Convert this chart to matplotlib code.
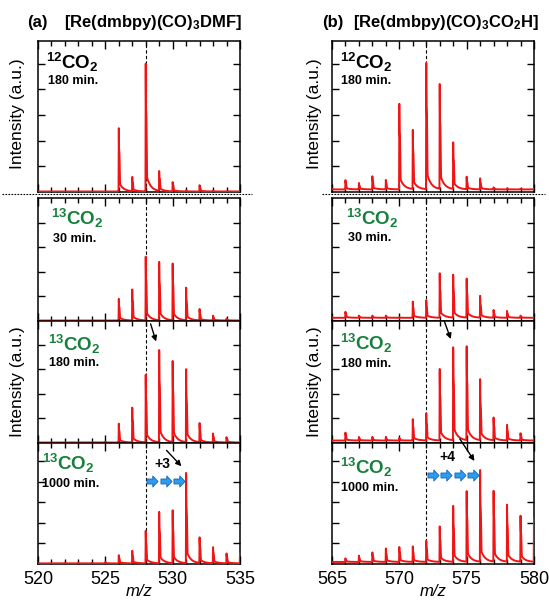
import numpy as np
import matplotlib
matplotlib.use("Agg")
import matplotlib.pyplot as plt
from matplotlib.path import Path
from matplotlib.ticker import MultipleLocator

plt.rcParams['font.family'] = ['Liberation Sans', 'DejaVu Sans']
plt.rcParams['mathtext.fontset'] = 'custom'
plt.rcParams['mathtext.rm'] = 'Liberation Sans:bold'
plt.rcParams['mathtext.bf'] = 'Liberation Sans:bold'
plt.rcParams['mathtext.it'] = 'Liberation Sans:bold:italic'
plt.rcParams['mathtext.default'] = 'rm'

# ---------------- data ----------------
masses_a = list(range(520, 536))
masses_b = list(range(565, 581))

# (a) [Re(dmbpy)(CO)3DMF]
a_12co2_180 = [0, 0, 0, 0, 0, 0.02, 2.57, 0.58, 5.06, 0.82, 0.39, 0.06, 0.27, 0.05, 0.03, 0]
a_13co2_30 = [0, 0, 0, 0, 0, 0.02, 0.93, 1.29, 2.64, 2.48, 2.39, 1.35, 0.49, 0.22, 0.10, 0.03]
a_13co2_180 = [0, 0, 0, 0, 0, 0.05, 0.81, 1.45, 2.80, 3.91, 3.41, 3.00, 0.81, 0.40, 0.24, 0.05]
a_13co2_1000 = [0, 0, 0.05, 0.05, 0.05, 0.10, 0.44, 0.65, 1.63, 2.63, 2.68, 4.45, 1.30, 0.85, 0.52, 0.50]

# (b) [Re(dmbpy)(CO)3CO2H]
b_12co2_180 = [0.12, 0.47, 0.36, 0.62, 0.47, 3.54, 2.48, 5.07, 4.23, 1.98, 0.60, 0.53, 0.18, 0.14, 0.12, 0.12]
b_13co2_30 = [0.13, 0.38, 0.22, 0.22, 0.22, 0.15, 0.81, 0.85, 1.96, 1.94, 1.76, 1.02, 0.45, 0.42, 0.22, 0.13]
b_13co2_180 = [0.10, 0.43, 0.25, 0.25, 0.25, 0.20, 1.00, 1.21, 3.04, 4.02, 4.02, 2.59, 1.04, 0.76, 0.40, 0.20]
b_13co2_1000 = [0.08, 0.28, 0.42, 0.57, 0.76, 0.85, 0.88, 1.14, 1.85, 2.93, 3.64, 4.59, 3.61, 3.00, 2.39, 2.20]

baselines_a = [0.02, 0.02, 0.02, 0.03]
baselines_b = [0.10, 0.13, 0.10, 0.10]

isotopes = ['12', '13', '13', '13']
times = ['180 min.', '30 min.', '180 min.', '1000 min.']
titles = [r'[Re(dmbpy)(CO)$_3$DMF]', r'[Re(dmbpy)(CO)$_3$CO$_2$H]']
tags = ['(a)', '(b)']

RED = '#f01414'
GREEN = '#17803d'

W, H = 549, 600
fig = plt.figure(figsize=(W / 100, H / 100), dpi=100)


def fx(px):
    return px / W


def fy(py):
    return 1 - py / H


def profile(masses, heights, base, xmin, xmax):
    x = np.linspace(xmin, xmax, 8000)
    y = np.full_like(x, base)
    for m, h in zip(masses, heights):
        amp = max(h - base, 0)
        d = x - m
        f = np.zeros_like(d)
        rise = (d >= -0.02) & (d < 0)
        f[rise] = (d[rise] + 0.02) / 0.02
        pos = d >= 0
        dp = d[pos]
        f[pos] = (0.37 * np.exp(-dp / 0.008)
                  + 0.48 / (1 + np.exp((dp - 0.07) / 0.008))
                  + 0.15 * np.exp(-dp / 0.3))
        y += amp * f
    return x, y


# panel pixel geometry (top, bottom) and y limits / ticks
rows = [(41, 192, 5.88, [1, 2, 3, 4, 5]),
        (198, 321, 5.0, [1, 2, 3, 4]),
        (321, 443, 4.96, [1, 2, 3, 4]),
        (443, 564, 5.9, [1, 2, 3, 4, 5])]
cols = [(38, 240, 520, 535, 528, masses_a,
         [a_12co2_180, a_13co2_30, a_13co2_180, a_13co2_1000], baselines_a),
        (332, 534, 565, 580, 572, masses_b,
         [b_12co2_180, b_13co2_30, b_13co2_180, b_13co2_1000], baselines_b)]

# text positions in axes coords per column/row: (iso_x, iso_y, time_x, time_y)
text_pos = [
    [(0.04, 0.86, 0.05, 0.735), (0.065, 0.83, 0.075, 0.665),
     (0.05, 0.81, 0.055, 0.655), (0.02, 0.83, 0.018, 0.665)],
    [(0.04, 0.86, 0.045, 0.735), (0.07, 0.83, 0.08, 0.675),
     (0.04, 0.82, 0.045, 0.645), (0.04, 0.80, 0.045, 0.625)],
]

axes = [[None] * 4 for _ in range(2)]
for ci, (x0, x1, xmin, xmax, xref, masses, series, bases) in enumerate(cols):
    for ri, (t, b, ymax, yt) in enumerate(rows):
        ax = fig.add_axes([fx(x0), fy(b), fx(x1 - x0), (b - t) / H])
        axes[ci][ri] = ax
        xs, ys = profile(masses, series[ri], bases[ri], xmin, xmax)
        ax.plot(xs, ys, color=RED, lw=1.4, zorder=3)
        ax.set_xlim(xmin, xmax)
        ax.set_ylim(0, ymax)
        ax.axvline(xref, color='black', lw=0.8, ls=(0, (3, 2)), zorder=2)
        ax.xaxis.set_major_locator(MultipleLocator(5))
        ax.xaxis.set_minor_locator(MultipleLocator(1))
        ax.set_yticks(yt)
        ax.tick_params(axis='both', which='both', direction='in', top=True, right=True,
                       width=1.0, labelleft=False, labelbottom=(ri == 3),
                       labelsize=13, pad=5)
        ax.tick_params(axis='x', which='major', length=6)
        ax.tick_params(axis='x', which='minor', length=3.5)
        ax.tick_params(axis='y', which='major', length=5)
        for s in ax.spines.values():
            s.set_linewidth(1.1)
        ix, iy, tx, ty = text_pos[ci][ri]
        color = 'black' if isotopes[ri] == '12' else GREEN
        ax.text(ix, iy, r'$^{%s}$CO$_2$' % isotopes[ri], transform=ax.transAxes,
                fontsize=13.5, fontweight='bold', color=color, ha='left', va='center')
        ax.text(tx, ty, times[ri], transform=ax.transAxes, fontsize=9,
                fontweight='bold', color='black', ha='left', va='center')

    # titles
    fig.text(fx(27 if ci == 0 else 322), fy(22), tags[ci], fontsize=12,
             fontweight='bold', ha='left', va='center')
    fig.text(fx(64 if ci == 0 else 353), fy(22), titles[ci], fontsize=12,
             fontweight='bold', ha='left', va='center')
    # y labels
    lx = 18 if ci == 0 else 315
    fig.text(fx(lx), fy(114), 'Intensity (a.u.)', rotation=90, fontsize=12.5,
             ha='center', va='center')
    fig.text(fx(lx), fy(382), 'Intensity (a.u.)', rotation=90, fontsize=12.5,
             ha='center', va='center')
    # m/z labels
    fig.text(fx((x0 + x1) / 2), fy(592), 'm/z', fontsize=12, style='italic',
             ha='center', va='center')

# dotted separator lines
for xa, xb in [(2, 252), (322, 545)]:
    fig.add_artist(plt.Line2D([fx(xa), fx(xb)], [fy(194), fy(194)], color='black',
                              lw=0.8, ls=(0, (1.5, 1.2)), transform=fig.transFigure))

# arrows showing the shift of the main peak
arrow_kw = dict(arrowstyle='-|>', color='black', lw=1.0, mutation_scale=8)
axes[0][2].annotate('', xy=(528.83, 4.02), xytext=(528.3, 4.95),
                    arrowprops=arrow_kw, annotation_clip=False)
axes[1][2].annotate('', xy=(573.89, 4.12), xytext=(573.26, 5.07),
                    arrowprops=arrow_kw, annotation_clip=False)
axes[0][3].annotate('', xy=(530.79, 4.67), xytext=(529.4, 5.64),
                    arrowprops=arrow_kw, annotation_clip=False)
axes[1][3].annotate('', xy=(575.69, 4.91), xytext=(574.38, 6.21),
                    arrowprops=arrow_kw, annotation_clip=False)
axes[0][3].text(529.25, 4.9, '+3', fontsize=10, fontweight='bold', ha='center', va='center')
axes[1][3].text(573.6, 5.2, '+4', fontsize=10, fontweight='bold', ha='center', va='center')

# blue block arrows
verts = [(-1, -0.45), (0.05, -0.45), (0.05, -1), (1, 0), (0.05, 1), (0.05, 0.45),
         (-1, 0.45), (-1, -0.45)]
codes = [Path.MOVETO] + [Path.LINETO] * 6 + [Path.CLOSEPOLY]
block = Path(verts, codes)
axes[0][3].plot([528.5, 529.5, 530.5], [4.05] * 3, ls='none', marker=block,
                markersize=8, markerfacecolor='#2b9cf0', markeredgecolor='#1565b8',
                markeredgewidth=0.6, zorder=5)
axes[1][3].plot([572.5, 573.5, 574.5, 575.45], [4.34] * 4, ls='none', marker=block,
                markersize=8, markerfacecolor='#2b9cf0', markeredgecolor='#1565b8',
                markeredgewidth=0.6, zorder=5)

fig.savefig('out.png', dpi=100)
